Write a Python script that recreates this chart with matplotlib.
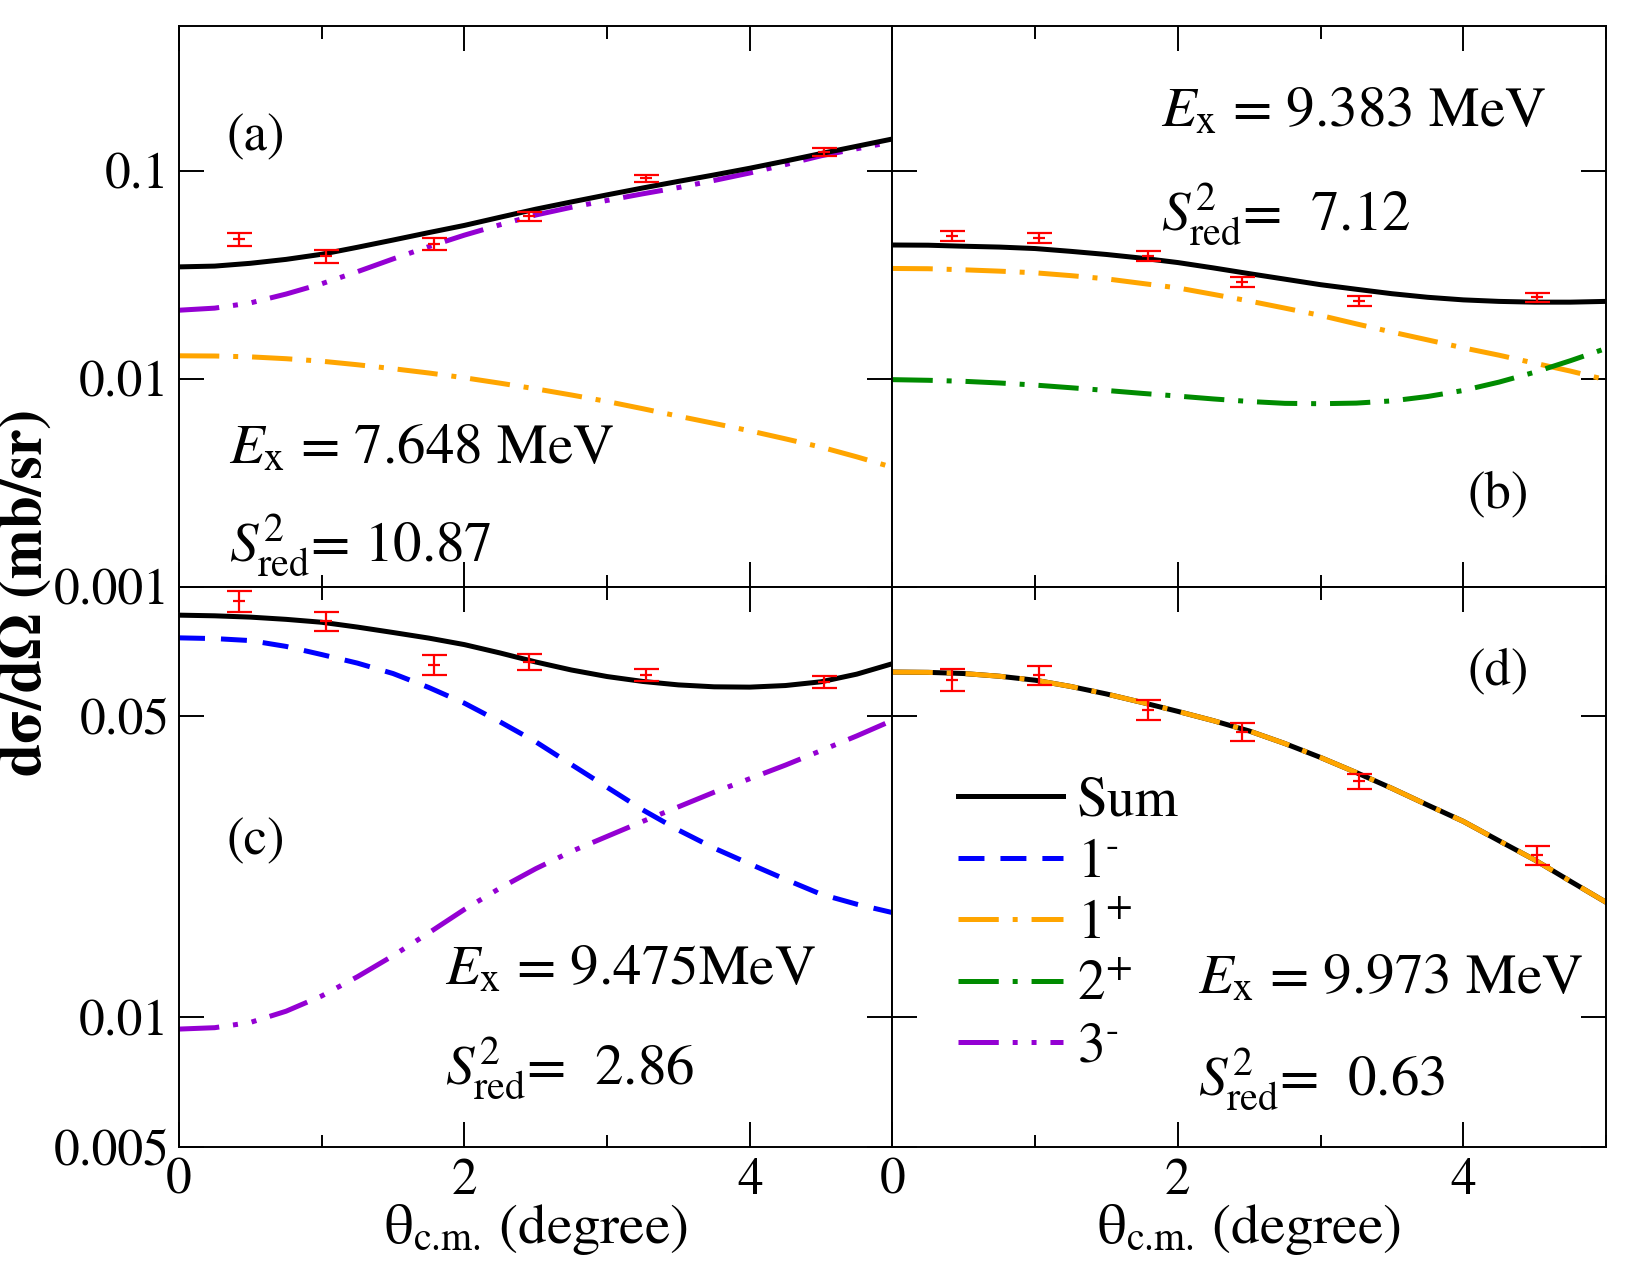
import matplotlib
matplotlib.use('Agg')
import matplotlib.pyplot as plt
from matplotlib.ticker import FixedLocator, NullLocator

plt.rcParams['font.family'] = ['STIXGeneral', 'DejaVu Serif']
plt.rcParams['mathtext.fontset'] = 'stix'
plt.rcParams['lines.scale_dashes'] = False

# angles (degree)
theta_curve = [0.0, 0.25, 0.5, 0.75, 1.0, 1.25, 1.5, 1.75, 2.0, 2.25, 2.5,
               2.75, 3.0, 3.25, 3.5, 3.75, 4.0, 4.25, 4.5, 4.75, 5.0]
theta_exp = [0.42, 1.03, 1.79, 2.45, 3.27, 4.52]

# (a) Ex = 7.648 MeV
a_sum = [0.0346, 0.0349, 0.0360, 0.0376, 0.0398, 0.0430, 0.0466, 0.0506, 0.0548, 0.0600, 0.0656,
         0.0711, 0.0769, 0.0830, 0.0893, 0.0959, 0.1033, 0.1119, 0.1216, 0.1318, 0.1429]
a_3m = [0.0214, 0.0219, 0.0232, 0.0256, 0.0287, 0.0328, 0.0378, 0.0433, 0.0492, 0.0552, 0.0615,
        0.0670, 0.0723, 0.0778, 0.0834, 0.0902, 0.0980, 0.1076, 0.1186, 0.1282, 0.1384]
a_1p = [0.01291, 0.01288, 0.01276, 0.01250, 0.01216, 0.01169, 0.01119, 0.01067, 0.01012, 0.00953, 0.00895,
        0.00836, 0.00778, 0.00718, 0.00661, 0.00610, 0.00562, 0.00514, 0.00469, 0.00421, 0.00375]
a_exp = [0.0469, 0.0389, 0.0448, 0.0607, 0.0922, 0.1236]
a_err = [0.0032, 0.0028, 0.0029, 0.0032, 0.0039, 0.0050]

# (b) Ex = 9.383 MeV
b_sum = [0.0441, 0.0440, 0.0435, 0.0431, 0.0424, 0.0411, 0.0397, 0.0381, 0.0363, 0.0342, 0.0321,
         0.0302, 0.0284, 0.0270, 0.0257, 0.0247, 0.0240, 0.0236, 0.0234, 0.0234, 0.0236]
b_1p = [0.0340, 0.0339, 0.0335, 0.0330, 0.0324, 0.0314, 0.0303, 0.0288, 0.0274, 0.0255, 0.0237,
        0.0219, 0.0202, 0.0184, 0.0168, 0.0154, 0.0141, 0.0130, 0.0119, 0.0109, 0.0099]
b_2p = [0.00991, 0.00984, 0.00973, 0.00955, 0.00933, 0.00906, 0.00879, 0.00851, 0.00826, 0.00800, 0.00778,
        0.00762, 0.00759, 0.00764, 0.00783, 0.00822, 0.00879, 0.00964, 0.01076, 0.01222, 0.01400]
b_exp = [0.0490, 0.0476, 0.0392, 0.0294, 0.0237, 0.0247]
b_err = [0.0027, 0.0027, 0.0022, 0.0017, 0.0013, 0.0013]

# (c) Ex = 9.475 MeV
c_sum = [0.0858, 0.0855, 0.0849, 0.0839, 0.0826, 0.0805, 0.0782, 0.0759, 0.0733, 0.0701, 0.0668,
         0.0640, 0.0618, 0.0602, 0.0591, 0.0585, 0.0584, 0.0589, 0.0601, 0.0626, 0.0662]
c_1m = [0.0760, 0.0757, 0.0749, 0.0726, 0.0695, 0.0664, 0.0628, 0.0583, 0.0536, 0.0485, 0.0436,
        0.0386, 0.0342, 0.0303, 0.0272, 0.0247, 0.0227, 0.0209, 0.0193, 0.0183, 0.0175]
c_3m = [0.00939, 0.00946, 0.00973, 0.01033, 0.01121, 0.01242, 0.0139, 0.0157, 0.0178, 0.01995, 0.02213,
        0.02427, 0.0263, 0.0285, 0.0308, 0.0333, 0.0358, 0.0385, 0.0416, 0.0450, 0.0489]
c_exp = [0.0924, 0.0830, 0.0659, 0.0668, 0.0624, 0.0600]
c_err = [0.0050, 0.0041, 0.0036, 0.0028, 0.0021, 0.0020]

# (d) Ex = 9.973 MeV (only 1+ contributes, so 1+ equals the sum)
d_sum = [0.0633, 0.0632, 0.0628, 0.0619, 0.0606, 0.0586, 0.0563, 0.0538, 0.0513, 0.0488, 0.0462,
         0.0432, 0.0401, 0.0370, 0.0340, 0.0311, 0.0285, 0.0257, 0.0232, 0.0207, 0.0185]
d_1p = [0.0633, 0.0632, 0.0628, 0.0619, 0.0606, 0.0586, 0.0563, 0.0538, 0.0513, 0.0488, 0.0462,
        0.0432, 0.0401, 0.0370, 0.0340, 0.0311, 0.0285, 0.0257, 0.0232, 0.0207, 0.0185]
d_exp = [0.0607, 0.0622, 0.0518, 0.0460, 0.0353, 0.0238]
d_err = [0.0036, 0.0031, 0.0028, 0.0023, 0.0014, 0.0012]

LW = 3.6
s_sum = dict(color='black', lw=LW, ls='-')
s_1m = dict(color='blue', lw=LW, dashes=(18.7, 11.5))
s_1p = dict(color='#FFA500', lw=LW, dashes=(29, 10, 3.6, 10))
s_2p = dict(color='#008B00', lw=LW, dashes=(29, 10, 3.6, 10))
s_3m = dict(color='#9400D3', lw=LW, dashes=(29, 10, 3.6, 10, 3.6, 10))

TICK_FS = 37
TXT_FS = 41


def setup(ax, row, col):
    ax.set_yscale('log')
    ax.set_xlim(0, 5)
    ax.xaxis.set_major_locator(FixedLocator([0, 2, 4]))
    ax.xaxis.set_minor_locator(FixedLocator([1, 3, 5]))
    if row == 0:
        ax.set_ylim(0.001, 0.5)
        ax.set_yticks([0.001, 0.01, 0.1], ['0.001', '0.01', '0.1'])
    else:
        ax.set_ylim(0.005, 0.1)
        ax.set_yticks([0.005, 0.01, 0.05, 0.1], ['0.005', '0.01', '0.05', ''])
    ax.yaxis.set_minor_locator(NullLocator())
    ax.tick_params(which='both', direction='in', top=True, right=True, width=1.4,
                   labelsize=TICK_FS)
    ax.tick_params(which='major', length=18)
    ax.tick_params(which='minor', length=9)
    ax.tick_params(axis='x', pad=8)
    ax.tick_params(axis='y', pad=7)
    if col == 1:
        ax.tick_params(labelleft=False)
    if row == 0:
        ax.tick_params(labelbottom=False)
    for sp in ax.spines.values():
        sp.set_linewidth(1.4)


def exp_points(ax, y, err):
    ax.errorbar(theta_exp, y, yerr=err, fmt='_', color='red', ms=9, mew=1.6,
                elinewidth=1.6, capsize=9, capthick=3.2, zorder=5)


fig, axs = plt.subplots(2, 2, figsize=(16.5, 12.75), dpi=100)
fig.subplots_adjust(left=0.1085, right=0.9733, top=0.9796, bottom=0.1004,
                    wspace=0, hspace=0)
ax_a, ax_b = axs[0]
ax_c, ax_d = axs[1]

# (a)
ax_a.plot(theta_curve, a_1p, **s_1p)
ax_a.plot(theta_curve, a_3m, **s_3m)
ax_a.plot(theta_curve, a_sum, **s_sum)
exp_points(ax_a, a_exp, a_err)
ax_a.text(0.108, 0.80, '(a)', transform=ax_a.transAxes, fontsize=38, ha='center', va='center')
ax_a.text(0.07, 0.22, r'$E_{\rm x}$ = 7.648 MeV', transform=ax_a.transAxes, fontsize=TXT_FS)
ax_a.text(0.07, 0.045, r'$S^{2}_{\rm red}$= 10.87', transform=ax_a.transAxes, fontsize=TXT_FS)

# (b)
ax_b.plot(theta_curve, b_1p, **s_1p)
l_2p, = ax_b.plot(theta_curve, b_2p, **s_2p)
ax_b.plot(theta_curve, b_sum, **s_sum)
exp_points(ax_b, b_exp, b_err)
ax_b.text(0.849, 0.163, '(b)', transform=ax_b.transAxes, fontsize=38, ha='center', va='center')
ax_b.text(0.377, 0.82, r'$E_{\rm x}$ = 9.383 MeV', transform=ax_b.transAxes, fontsize=TXT_FS)
ax_b.text(0.377, 0.637, r'$S^{2}_{\rm red}$=  7.12', transform=ax_b.transAxes, fontsize=TXT_FS)

# (c)
l_1m, = ax_c.plot(theta_curve, c_1m, **s_1m)
l_3m, = ax_c.plot(theta_curve, c_3m, **s_3m)
ax_c.plot(theta_curve, c_sum, **s_sum)
exp_points(ax_c, c_exp, c_err)
ax_c.text(0.108, 0.544, '(c)', transform=ax_c.transAxes, fontsize=38, ha='center', va='center')
ax_c.text(0.373, 0.29, r'$E_{\rm x}$ = 9.475MeV', transform=ax_c.transAxes, fontsize=TXT_FS)
ax_c.text(0.373, 0.112, r'$S^{2}_{\rm red}$=  2.86', transform=ax_c.transAxes, fontsize=TXT_FS)

# (d)
l_sum, = ax_d.plot(theta_curve, d_sum, **s_sum)
l_1p, = ax_d.plot(theta_curve, d_1p, **s_1p)
exp_points(ax_d, d_exp, d_err)
ax_d.text(0.849, 0.848, '(d)', transform=ax_d.transAxes, fontsize=38, ha='center', va='center')
ax_d.text(0.428, 0.273, r'$E_{\rm x}$ = 9.973 MeV', transform=ax_d.transAxes, fontsize=TXT_FS)
ax_d.text(0.428, 0.094, r'$S^{2}_{\rm red}$=  0.63', transform=ax_d.transAxes, fontsize=TXT_FS)

ax_d.legend([l_sum, l_1m, l_1p, l_2p, l_3m],
            ['Sum', r'$1^{\text{-}}$', r'$1^{+}$', r'$2^{+}$', r'$3^{\text{-}}$'],
            loc='upper left', bbox_to_anchor=(0.06, 0.70), frameon=False,
            fontsize=40, handlelength=1.9, handletextpad=0.25, labelspacing=0.19,
            borderaxespad=0)

for ax, (r, c) in zip([ax_a, ax_b, ax_c, ax_d], [(0, 0), (0, 1), (1, 0), (1, 1)]):
    setup(ax, r, c)

for ax in (ax_c, ax_d):
    ax.text(0.5, -0.172, r'θ$_{\text{c.m.}}$ (degree)', transform=ax.transAxes,
            fontsize=41, ha='center', va='baseline')

fig.text(0.016, 0.535, 'dσ/dΩ (mb/sr)', rotation=90, ha='center', va='center',
         fontsize=43, fontweight='bold')

fig.savefig('out.png', dpi=100)
